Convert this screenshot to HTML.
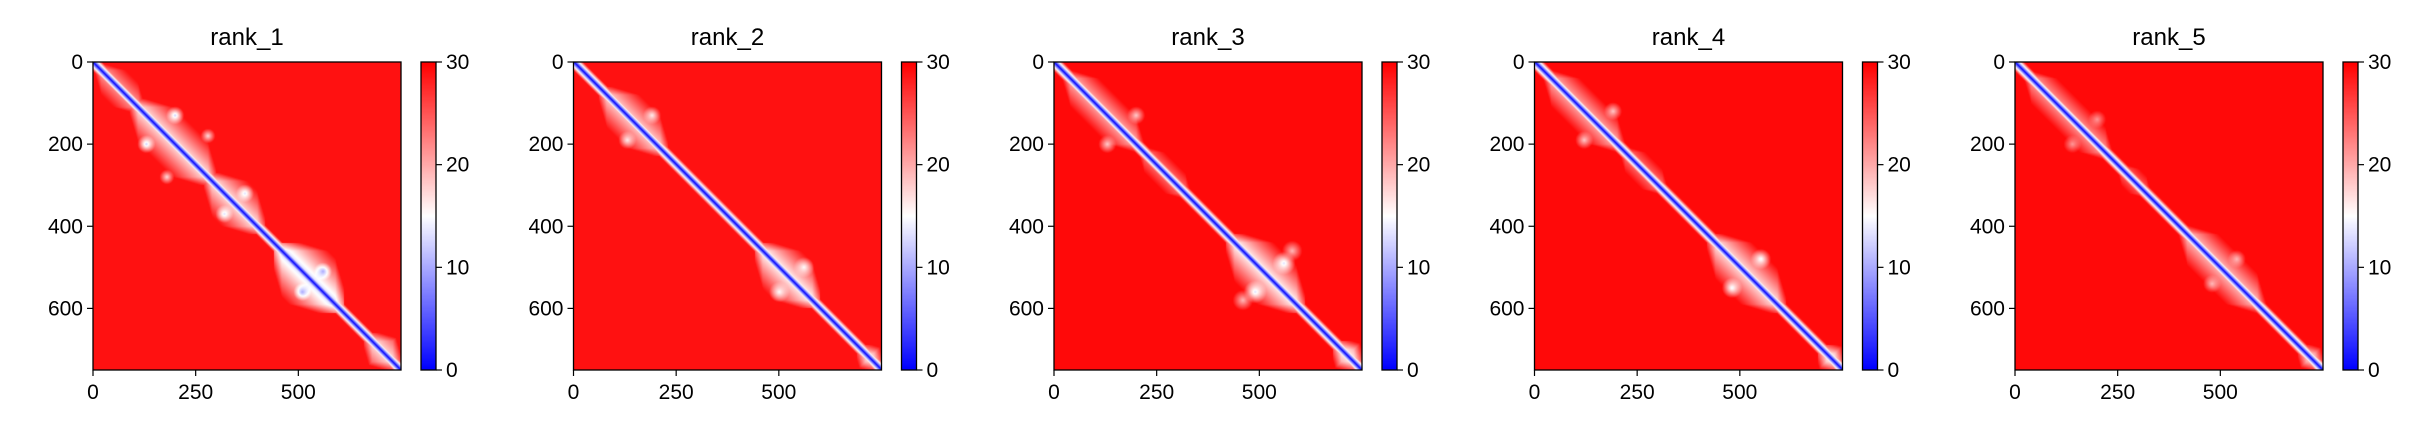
<!DOCTYPE html>
<html><head><meta charset="utf-8">
<style>
html,body{margin:0;padding:0;background:#fff;width:2435px;height:438px;overflow:hidden}
#wrap{position:relative;width:2435px;height:438px}
canvas{position:absolute;image-rendering:auto}
svg{position:absolute;left:0;top:0}
text{font-family:"Liberation Sans","DejaVu Sans",sans-serif;fill:#000}
</style></head>
<body>
<div id="wrap">
<svg id="ov" width="2435" height="438"></svg>
</div>
<script>
// ---- data ----
const ranks = ["rank_1","rank_2","rank_3","rank_4","rank_5"];
const nRes = 750;
const xTicks = [0,250,500];
const yTicks = [0,200,400,600];
const cbTicks = [0,10,20,30];
const cbMax = 30;
// domains per rank: [start, end, pae near diagonal]
const domainsR1 = [[0,130,20],[90,300,16],[270,420,16],[440,610,12],[660,750,16]];
const domainsR2 = [[60,230,17],[440,600,15],[690,750,16]];
const domainsR3 = [[20,220,19],[200,340,22],[420,610,15],[680,750,15]];
const domainsR4 = [[20,220,19],[200,330,22],[420,610,16],[690,750,15]];
const domainsR5 = [[20,240,20],[240,340,23],[400,610,18],[690,750,17]];
const domains = [domainsR1,domainsR2,domainsR3,domainsR4,domainsR5];
// off-diagonal contact patches: [i, j, radius, pae]
const patchesR1 = [[130,200,22,12],[200,130,22,12],[320,370,22,13],[370,320,22,13],[510,560,22,10],[560,510,22,10],[180,280,18,17],[280,180,18,17]];
const patchesR2 = [[130,190,22,16],[190,130,22,16],[500,560,25,15],[560,500,25,15]];
const patchesR3 = [[130,200,22,18],[200,130,22,18],[490,560,28,13],[560,490,28,13],[460,580,25,19],[580,460,25,19]];
const patchesR4 = [[120,190,22,18],[190,120,22,18],[480,550,25,14],[550,480,25,14]];
const patchesR5 = [[140,200,22,21],[200,140,22,21],[480,540,22,19],[540,480,22,19]];
const patches = [patchesR1,patchesR2,patchesR3,patchesR4,patchesR5];
const bgPae = [29,29,29.5,29.5,29.5];

// ---- layout ----
const L0=93, dx=480.5, T=62, S=308, cbOff=328, cbW=15;
const NS="http://www.w3.org/2000/svg";
const ov=document.getElementById('ov');
function el(tag,attrs,txt){const e=document.createElementNS(NS,tag);for(const k in attrs)e.setAttribute(k,attrs[k]);if(txt!==undefined)e.textContent=txt;ov.appendChild(e);return e;}
function bwr(v){let t=Math.max(0,Math.min(1,v/cbMax));if(t<0.5){const a=t*2;return [Math.round(a*255),Math.round(a*255),255];}const a=(t-0.5)*2;return [255,Math.round((1-a)*255),Math.round((1-a)*255)];}
function pae(k,i,j){
  let v=bgPae[k];
  const dd=Math.abs(i-j);
  for(const d of domains[k]){if(i>=d[0]&&i<=d[1]&&j>=d[0]&&j<=d[1]){
    const edge=Math.min(i-d[0],d[1]-i,j-d[0],d[1]-j);
    const fade=Math.max(0,(20-edge)*0.35);
    v=Math.min(v,d[2]+dd*0.15+fade);}}
  for(const p of patches[k]){const r=Math.hypot(i-p[0],j-p[1]);if(r<p[2])v=Math.min(v,p[3]+(v-p[3])*(r/p[2]));}
  v=Math.min(v,0.3+dd*1.3);
  return v;
}
const G=308;
ranks.forEach((name,k)=>{
  const L=L0+k*dx;
  const xs=v=>L+v/nRes*S, ys=v=>T+v/nRes*S;
  const c=document.createElement('canvas');c.width=G;c.height=G;
  c.style.left=L+'px';c.style.top=T+'px';c.style.width=S+'px';c.style.height=S+'px';
  
  
  const ctx=c.getContext('2d');const img=ctx.createImageData(G,G);
  for(let y=0;y<G;y++)for(let x=0;x<G;x++){const i=(y+0.5)/G*nRes,j=(x+0.5)/G*nRes;const col=bwr(pae(k,i,j));const o=(y*G+x)*4;img.data[o]=col[0];img.data[o+1]=col[1];img.data[o+2]=col[2];img.data[o+3]=255;}
  ctx.putImageData(img,0,0);
  document.getElementById('wrap').insertBefore(c,ov);
  const cb=document.createElement('canvas');cb.width=1;cb.height=256;
  const cl=L+cbOff;cb.style.left=cl+'px';cb.style.top=T+'px';cb.style.width=cbW+'px';cb.style.height=S+'px';
  
  
  const cc=cb.getContext('2d');const ci=cc.createImageData(1,256);
  for(let y=0;y<256;y++){const col=bwr((255-y)/255*cbMax);ci.data[y*4]=col[0];ci.data[y*4+1]=col[1];ci.data[y*4+2]=col[2];ci.data[y*4+3]=255;}
  cc.putImageData(ci,0,0);
  document.getElementById('wrap').insertBefore(cb,ov);
  const f=el('rect',{x:L,y:T,width:S,height:S,fill:'none',stroke:'#000','stroke-width':1.3});
  
  
  const cf=el('rect',{x:cl,y:T,width:cbW,height:S,fill:'none',stroke:'#000','stroke-width':1.3});
  
  
  const t=el('text',{x:L+S/2,y:45,'font-size':24,'text-anchor':'middle'},name);
  
  
  xTicks.forEach(v=>{const x=xs(v);el('line',{x1:x,x2:x,y1:T+S,y2:T+S+6,stroke:'#000','stroke-width':1.2});
    const tl=el('text',{x:x,y:T+S+29,'font-size':21,'text-anchor':'middle'},String(v));
    
    });
  yTicks.forEach(v=>{const y=ys(v);el('line',{x1:L-6,x2:L,y1:y,y2:y,stroke:'#000','stroke-width':1.2});
    const tl=el('text',{x:L-10,y:y+7,'font-size':21,'text-anchor':'end'},String(v));
    
    });
  cbTicks.forEach(v=>{const y=T+S-v/cbMax*S;el('line',{x1:cl+cbW,x2:cl+cbW+6,y1:y,y2:y,stroke:'#000','stroke-width':1.2});
    const tl=el('text',{x:cl+cbW+10,y:y+7,'font-size':21,'text-anchor':'start'},String(v));
    
    });
});
</script>
</body></html>
